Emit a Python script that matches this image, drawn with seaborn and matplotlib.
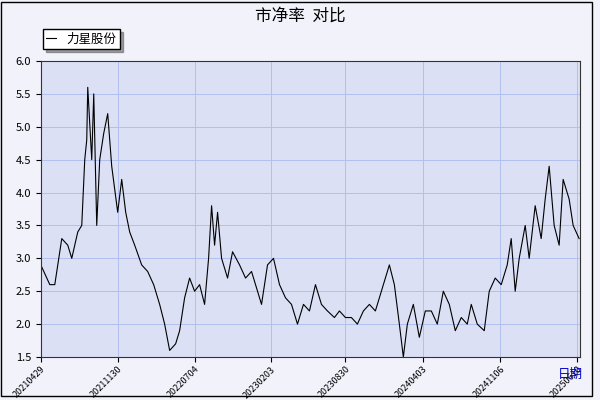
import numpy as np
import pandas as pd
import matplotlib
matplotlib.use("Agg")
import matplotlib.pyplot as plt
import seaborn as sns

plt.rcParams["font.family"] = ["Noto Sans CJK SC", "DejaVu Sans"]

start = pd.Timestamp("2021-04-29")
tick_labels = ["20210429", "20211130", "20220704", "20230203",
               "20230830", "20240403", "20241106", "20250610"]

# pixel-ish positions, converted to days from start
px = [41, 50, 55, 62, 68, 72, 78, 82, 85, 87, 88, 92, 94, 97, 100, 104, 108, 112,
      118, 122, 126, 130, 135, 142, 148, 154, 160, 165, 170, 176, 180, 185, 190,
      195, 200, 205, 209, 212, 215, 218, 222, 228, 233, 240, 246, 252, 258, 262,
      268, 274, 280, 286, 292, 298, 304, 310, 316, 322, 328, 335, 340, 346, 352,
      358, 364, 370, 376, 382, 390, 395, 400, 404, 408, 414, 420, 426, 432, 438,
      444, 450, 456, 462, 468, 472, 478, 485, 490, 496, 502, 508, 512, 516, 520,
      526, 530, 536, 542, 546, 550, 555, 560, 564, 570, 574, 580]
pb = [2.9, 2.6, 2.6, 3.3, 3.2, 3.0, 3.4, 3.5, 4.5, 4.8, 5.6, 4.5, 5.5, 3.5, 4.5,
      4.9, 5.2, 4.4, 3.7, 4.2, 3.7, 3.4, 3.2, 2.9, 2.8, 2.6, 2.3, 2.0, 1.6, 1.7,
      1.9, 2.4, 2.7, 2.5, 2.6, 2.3, 3.0, 3.8, 3.2, 3.7, 3.0, 2.7, 3.1, 2.9, 2.7,
      2.8, 2.5, 2.3, 2.9, 3.0, 2.6, 2.4, 2.3, 2.0, 2.3, 2.2, 2.6, 2.3, 2.2, 2.1,
      2.2, 2.1, 2.1, 2.0, 2.2, 2.3, 2.2, 2.5, 2.9, 2.6, 2.0, 1.5, 2.0, 2.3, 1.8,
      2.2, 2.2, 2.0, 2.5, 2.3, 1.9, 2.1, 2.0, 2.3, 2.0, 1.9, 2.5, 2.7, 2.6, 2.9,
      3.3, 2.5, 3.0, 3.5, 3.0, 3.8, 3.3, 3.9, 4.4, 3.5, 3.2, 4.2, 3.9, 3.5, 3.3]

tick_dates = pd.to_datetime(tick_labels, format="%Y%m%d")
days_per_px = (tick_dates[-1] - tick_dates[0]).days / (578 - 41)
df = pd.DataFrame({
    "date": [start + pd.Timedelta(days=(p - 41) * days_per_px) for p in px],
    "pb": pb,
})

fig = plt.figure(figsize=(6, 4), dpi=100, facecolor="#f2f2fb")
ax = fig.add_axes([0.068, 0.1075, 0.899, 0.74])
ax.set_facecolor("#dbe0f5")
sns.lineplot(data=df, x="date", y="pb", ax=ax, color="black", linewidth=0.8,
             label="力星股份")

ax.set_ylim(1.5, 6.0)
ax.set_yticks(np.arange(1.5, 6.01, 0.5))
ax.set_yticklabels([f"{v:.1f}" for v in np.arange(1.5, 6.01, 0.5)], fontsize=8)
ax.set_xlim(tick_dates[0], df["date"].iloc[-1] + pd.Timedelta(days=3))
ax.set_xticks(tick_dates)
ax.set_xticklabels(tick_labels, rotation=45, fontsize=6.5, ha="right",
                   rotation_mode="anchor")
ax.tick_params(axis="x", pad=2)
ax.grid(True, color="#b0c0ee", linewidth=0.7)
ax.set_xlabel("")
ax.set_ylabel("")
for s in ax.spines.values():
    s.set_color("#333333")
    s.set_linewidth(0.8)

ax.legend(loc="upper left", bbox_to_anchor=(-0.008, 1.13), frameon=True,
          fancybox=False, edgecolor="black", fontsize=9, handlelength=0.8,
          borderpad=0.3, shadow=True)
fig.text(0.5, 0.96, "市净率  对比", ha="center", va="center", fontsize=12)
fig.text(0.93, 0.055, "日期", color="#0000cc", fontsize=9)

# outer frame
fig.patches.append(plt.Rectangle((0.002, 0.01), 0.985, 0.985, transform=fig.transFigure,
                                 fill=False, edgecolor="black", linewidth=1))

fig.savefig("out.png", dpi=100, facecolor=fig.get_facecolor())
